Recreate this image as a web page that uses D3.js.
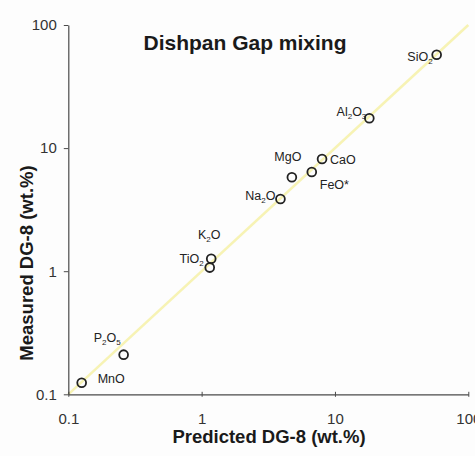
<!DOCTYPE html>
<html>
<head>
<meta charset="utf-8">
<script src="https://cdn.jsdelivr.net/npm/d3@7/dist/d3.min.js"></script>
<style>
  html, body { margin: 0; padding: 0; background: #fdfdfd; }
  svg { display: block; }
  text { font-family: "Liberation Sans", Arial, Helvetica, sans-serif; }
</style>
</head>
<body>
<svg id="chart" width="475" height="456"></svg>
<script>
// Oxide composition: predicted mixing result vs measured DG-8 (wt.%)
const oxides    = ["SiO_2", "Al_2O_3", "CaO", "FeO*", "MgO", "Na_2O", "K_2O", "TiO_2", "P_2O_5", "MnO"];
const predicted = [57.9, 18.1, 8.0, 6.7, 4.75, 3.9, 1.18, 1.15, 0.26, 0.126];
const measured  = [57.3, 17.5, 8.15, 6.4, 5.8, 3.86, 1.26, 1.07, 0.21, 0.124];
const tickValues = [0.1, 1, 10, 100];
const tickLabels = ["0.1", "1", "10", "100"];
const oneToOne = [0.1, 100];

// Label placement around each marker (anchor, dx, dy in px)
const labelLayout = {
  "SiO_2":   ["end",    -4,   6],
  "Al_2O_3": ["end",    -3,  -2],
  "CaO":     ["start",   8,   5],
  "FeO*":    ["start",   8,  17],
  "MgO":     ["middle", -4, -16],
  "Na_2O":   ["end",    -5,   1],
  "K_2O":    ["middle", -2, -20],
  "TiO_2":   ["end",    -6,  -5],
  "P_2O_5":  ["end",    -3, -13],
  "MnO":     ["start",  16,   0]
};

const svg = d3.select("#chart");
const x = d3.scaleLog().domain([0.1, 100]).range([68.3, 468.3]);
const y = d3.scaleLog().domain([0.1, 100]).range([394.3, 25]);
const fmt = d => tickLabels[tickValues.indexOf(d)];

// 1:1 reference line
svg.append("line")
  .attr("x1", x(oneToOne[0])).attr("y1", y(oneToOne[0]))
  .attr("x2", x(oneToOne[1])).attr("y2", y(oneToOne[1]))
  .attr("stroke", "#f7f3b4").attr("stroke-width", 2.5);

// Axes
const xAxis = svg.append("g")
  .attr("transform", `translate(0,${y(0.1)})`)
  .call(d3.axisBottom(x).tickValues(tickValues).tickFormat(fmt)
        .tickSizeInner(3).tickSizeOuter(0).tickPadding(16));
xAxis.selectAll(".tick line").attr("y1", -2.5).attr("y2", 2.5);

const yAxis = svg.append("g")
  .attr("transform", `translate(${x(0.1)},0)`)
  .call(d3.axisLeft(y).tickValues(tickValues).tickFormat(fmt)
        .tickSizeInner(4.5).tickSizeOuter(0).tickPadding(7));

[xAxis, yAxis].forEach(g => {
  g.select(".domain").attr("stroke", "#4a4a4a").attr("stroke-width", 1.2);
  g.selectAll(".tick line").attr("stroke", "#4a4a4a").attr("stroke-width", 1);
  g.selectAll(".tick text")
    .attr("fill", "#333")
    .style("font-size", "15px")
    .style("font-family", "'Liberation Sans', Arial, sans-serif");
});

// Data points
const pts = oxides.map((name, i) => ({ name, p: predicted[i], m: measured[i] }));

svg.append("g").selectAll("circle")
  .data(pts).join("circle")
  .attr("cx", d => x(d.p)).attr("cy", d => y(d.m))
  .attr("r", 4.4)
  .attr("fill", "none")
  .attr("stroke", "#222")
  .attr("stroke-width", 1.8);

// Labels with chemical subscripts
function writeFormula(sel, label) {
  const parts = label.split(/_(\d)/);
  parts.forEach((s, i) => {
    if (s === "") return;
    const sub = i % 2 === 1;
    sel.append("tspan")
      .attr("dy", sub ? 3 : (i > 0 ? -3 : 0))
      .style("font-size", sub ? "8px" : null)
      .text(s);
  });
}

const labels = svg.append("g").selectAll("text")
  .data(pts).join("text")
  .attr("x", d => x(d.p) + labelLayout[d.name][1])
  .attr("y", d => y(d.m) + labelLayout[d.name][2])
  .attr("text-anchor", d => labelLayout[d.name][0])
  .attr("fill", "#222")
  .style("font-size", "12.5px");
labels.each(function (d) { writeFormula(d3.select(this), d.name); });

// Title and axis titles
svg.append("text")
  .attr("x", 245).attr("y", 50)
  .attr("text-anchor", "middle")
  .attr("fill", "#1a1a1a")
  .style("font-size", "21px").style("font-weight", "bold")
  .text("Dishpan Gap mixing");

svg.append("text")
  .attr("x", 269).attr("y", 443)
  .attr("text-anchor", "middle")
  .attr("fill", "#1a1a1a")
  .style("font-size", "18.5px").style("font-weight", "bold")
  .text("Predicted DG-8 (wt.%)");

svg.append("text")
  .attr("transform", "translate(33,263) rotate(-90)")
  .attr("text-anchor", "middle")
  .attr("fill", "#1a1a1a")
  .style("font-size", "18.5px").style("font-weight", "bold")
  .text("Measured DG-8 (wt.%)");
</script>
</body>
</html>
